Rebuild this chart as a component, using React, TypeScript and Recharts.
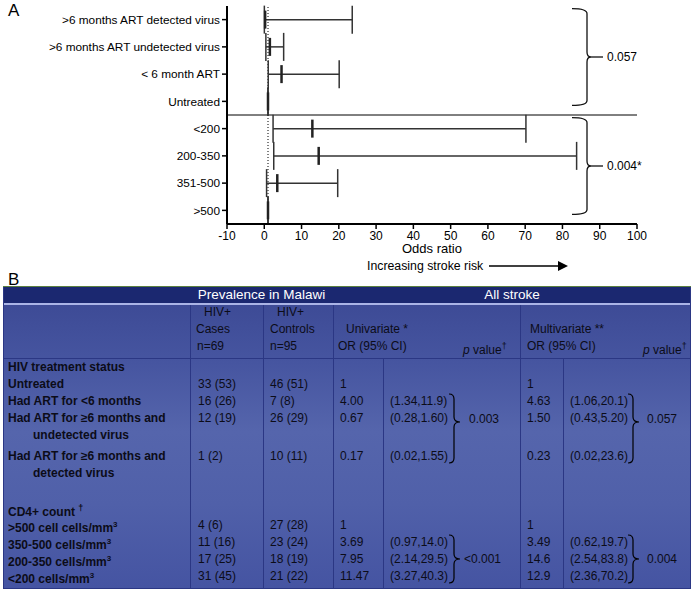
import { ScatterChart, Scatter, XAxis, YAxis, ErrorBar, ReferenceLine } from 'recharts'

const FONT = '"Liberation Sans", Arial, Helvetica, sans-serif'

// Panel A: multivariate odds ratios (95% CI), top row first
const rowLabels = [
  '>6 months ART detected virus',
  '>6 months ART undetected virus',
  '< 6 month ART',
  'Untreated',
  '<200',
  '200-350',
  '351-500',
  '>500',
]
const oddsRatio = [0.23, 1.5, 4.63, 1, 12.9, 14.6, 3.49, 1]
const ciLow = [0.02, 0.43, 1.06, 1, 2.36, 2.54, 0.62, 1]
const ciHigh = [23.6, 5.2, 20.1, 1, 70.2, 83.8, 19.7, 1]
const xTicks = [-10, 0, 10, 20, 30, 40, 50, 60, 70, 80, 90, 100]
const groupRows = [[1, 4], [5, 8]]
const groupP = ['0.057', '0.004*']

// Panel B: table
const treatLabels = ['Untreated', 'Had ART for <6 months', 'Had ART for ≥6 months and', 'Had ART for ≥6 months and']
const treatLabels2 = ['', '', 'undetected virus', 'detected virus']
const treatCases = ['33 (53)', '16 (26)', '12 (19)', '1 (2)']
const treatControls = ['46 (51)', '7 (8)', '26 (29)', '10 (11)']
const treatUniOR = ['1', '4.00', '0.67', '0.17']
const treatUniCI = ['', '(1.34,11.9)', '(0.28,1.60)', '(0.02,1.55)']
const treatMultiOR = ['1', '4.63', '1.50', '0.23']
const treatMultiCI = ['', '(1.06,20.1)', '(0.43,5.20)', '(0.02,23.6)']
const treatP = ['0.003', '0.057']

const cd4Labels = ['>500 cell cells/mm', '350-500 cells/mm', '200-350 cells/mm', '<200 cells/mm']
const cd4Cases = ['4 (6)', '11 (16)', '17 (25)', '31 (45)']
const cd4Controls = ['27 (28)', '23 (24)', '18 (19)', '21 (22)']
const cd4UniOR = ['1', '3.69', '7.95', '11.47']
const cd4UniCI = ['', '(0.97,14.0)', '(2.14,29.5)', '(3.27,40.3)']
const cd4MultiOR = ['1', '3.49', '14.6', '12.9']
const cd4MultiCI = ['', '(0.62,19.7)', '(2.54,83.8)', '(2.36,70.2)']
const cd4P = ['<0.001', '0.004']

const forestData = rowLabels.map((name, i) => ({
  name,
  row: i + 1,
  or: oddsRatio[i],
  err: [oddsRatio[i] - ciLow[i], ciHigh[i] - oddsRatio[i]],
}))

const CHART_W = 694
const CHART_H = 280
const M = { top: 6, right: 57, left: 0, bottom: 26 }
const Y_W = 227
const X_H = 30
const plotTop = M.top
const plotBottom = CHART_H - M.bottom - X_H
const plotLeft = M.left + Y_W
const plotRight = CHART_W - M.right
const rowH = (plotBottom - plotTop) / rowLabels.length
const rowY = (r: number) => plotTop + (r - 0.5) * rowH

// right curly brace, tip at ym
function bracePath(x: number, y1: number, ym: number, y2: number, w: number, tip: number) {
  const r = Math.min(5, (y2 - y1) / 6)
  return `M ${x - w} ${y1} Q ${x} ${y1} ${x} ${y1 + r} L ${x} ${ym - r} Q ${x} ${ym} ${x + tip} ${ym} Q ${x} ${ym} ${x} ${ym + r} L ${x} ${y2 - r} Q ${x} ${y2} ${x - w} ${y2}`
}

const ORMark = (props: any) => {
  const { cx, cy } = props
  return <line x1={cx} x2={cx} y1={cy - 9} y2={cy + 9} stroke="#222" strokeWidth={2.5} />
}

function T({ x, y, children, bold, color = '#0c0c18', size = 12 }: any) {
  return (
    <div
      style={{
        position: 'absolute',
        left: x,
        top: y - 8,
        height: 16,
        lineHeight: '16px',
        fontSize: size,
        fontWeight: bold ? 700 : 400,
        color,
        whiteSpace: 'nowrap',
        fontFamily: FONT,
      }}
    >
      {children}
    </div>
  )
}

function Forest() {
  return (
    <div style={{ position: 'absolute', left: 0, top: 0 }}>
      <ScatterChart width={CHART_W} height={CHART_H} margin={M}>
        <XAxis
          type="number"
          dataKey="or"
          domain={[-10, 100]}
          ticks={xTicks}
          interval={0}
          height={X_H}
          axisLine={{ stroke: '#000', strokeWidth: 2 }}
          tickLine={{ stroke: '#000', strokeWidth: 1.5 }}
          tickSize={5}
          tick={{ fontSize: 12, fill: '#000', fontFamily: FONT }}
        />
        <YAxis
          type="number"
          dataKey="row"
          domain={[0.5, 8.5]}
          ticks={[1, 2, 3, 4, 5, 6, 7, 8]}
          interval={0}
          reversed
          width={Y_W}
          tickFormatter={(v: number) => rowLabels[v - 1]}
          axisLine={{ stroke: '#000', strokeWidth: 2 }}
          tickLine={{ stroke: '#000', strokeWidth: 1.5 }}
          tickSize={5}
          tick={{ fontSize: 11.8, fill: '#000', fontFamily: FONT }}
        />
        <ReferenceLine x={1} stroke="#000" strokeDasharray="1 2" />
        <ReferenceLine y={4.5} stroke="#000" />
        <Scatter data={forestData} shape={ORMark} isAnimationActive={false}>
          <ErrorBar dataKey="err" direction="x" width={14} stroke="#333" strokeWidth={1.5} />
        </Scatter>
      </ScatterChart>
      <svg width={CHART_W} height={CHART_H} style={{ position: 'absolute', left: 0, top: 0 }}>
        <text x={8} y={16} fontSize={17} fontFamily={FONT}>A</text>
        {groupRows.map(([a, b], i) => {
          const y1 = rowY(a) - 11
          const y2 = rowY(b) + 4
          const ym = (y1 + y2) / 2
          return (
            <g key={i}>
              <path d={bracePath(587, y1, ym, y2, 15, 4)} fill="none" stroke="#111" strokeWidth={1.3} />
              <line x1={591} x2={603} y1={ym} y2={ym} stroke="#111" strokeWidth={1.3} />
              <text x={607} y={ym + 4} fontSize={12} fontFamily={FONT}>{groupP[i]}</text>
            </g>
          )
        })}
        <text x={(plotLeft + plotRight) / 2} y={253} fontSize={13} textAnchor="middle" fontFamily={FONT}>
          Odds ratio
        </text>
        <text x={367} y={270} fontSize={12.3} fontFamily={FONT}>Increasing stroke risk</text>
        <line x1={489} x2={560} y1={266} y2={266} stroke="#000" strokeWidth={1.5} />
        <path d="M 558 261 L 568 266 L 558 271 Z" fill="#000" />
      </svg>
    </div>
  )
}

const LINE = '#2b3784'

function TableB() {
  const tY = [384, 401, 418, 456]
  const cY = [525, 542, 559, 576]
  const vLine = (x: number, top: number) => (
    <div style={{ position: 'absolute', left: x, top, width: 1, height: 588 - top, background: LINE }} />
  )
  const brace = (x: number, y1: number, ym: number, y2: number) => (
    <svg style={{ position: 'absolute', left: 0, top: 0 }} width={694} height={593}>
      <path d={bracePath(x, y1, ym, y2, 5, 6)} fill="none" stroke="#000" strokeWidth={1.2} />
    </svg>
  )
  const dag = <sup style={{ fontSize: 9 }}>†</sup>
  return (
    <div style={{ position: 'absolute', left: 0, top: 0, width: 694, height: 593 }}>
      <div style={{ position: 'absolute', left: 8, top: 270, fontSize: 17, fontFamily: FONT }}>B</div>
      <div
        style={{
          position: 'absolute',
          left: 3,
          top: 287,
          width: 688,
          height: 301,
          background: 'linear-gradient(180deg, #3b4893 0%, #4655a0 25%, #5565ac 48%, #5060a9 72%, #4554a2 100%)',
        }}
      />
      <div style={{ position: 'absolute', left: 3, top: 286, width: 688, height: 1, background: '#5b8040' }} />
      <div style={{ position: 'absolute', left: 3, top: 287, width: 688, height: 16, background: '#1b2870' }} />
      <div style={{ position: 'absolute', left: 3, top: 303, width: 688, height: 2, background: '#aab4e6' }} />
      <div style={{ position: 'absolute', left: 3, top: 287, width: 1, height: 301, background: LINE }} />
      <div style={{ position: 'absolute', left: 690, top: 287, width: 1, height: 301, background: LINE }} />
      <div style={{ position: 'absolute', left: 3, top: 588, width: 688, height: 1, background: LINE }} />
      <div style={{ position: 'absolute', left: 3, top: 358, width: 688, height: 1, background: LINE }} />
      {vLine(190, 305)}
      {vLine(263, 305)}
      {vLine(333, 305)}
      {vLine(383, 359)}
      {vLine(520, 305)}
      {vLine(563, 359)}

      <div style={{ position: 'absolute', left: 190, width: 143, top: 287, height: 16, lineHeight: '16px', textAlign: 'center', color: '#fff', fontSize: 13.5, fontFamily: FONT }}>
        Prevalence in Malawi
      </div>
      <div style={{ position: 'absolute', left: 333, width: 358, top: 287, height: 16, lineHeight: '16px', textAlign: 'center', color: '#fff', fontSize: 13.5, fontFamily: FONT }}>
        All stroke
      </div>

      <T x={204} y={312}>HIV+</T>
      <T x={196} y={329}>Cases</T>
      <T x={197} y={346}>n=69</T>
      <T x={277} y={312}>HIV+</T>
      <T x={270} y={329}>Controls</T>
      <T x={270} y={346}>n=95</T>
      <T x={346} y={329}>Univariate *</T>
      <T x={338} y={346}>OR (95% CI)</T>
      <T x={463} y={346}><i>p</i> value{dag}</T>
      <T x={530} y={329}>Multivariate **</T>
      <T x={527} y={346}>OR (95% CI)</T>
      <T x={643} y={346}><i>p</i> value{dag}</T>

      <T x={8} y={367} bold>HIV treatment status</T>
      {treatLabels.map((l, i) => (
        <div key={'t' + i}>
          <T x={8} y={tY[i]} bold>{l}</T>
          {treatLabels2[i] && <T x={33} y={tY[i] + 17} bold>{treatLabels2[i]}</T>}
          <T x={198} y={tY[i]}>{treatCases[i]}</T>
          <T x={270} y={tY[i]}>{treatControls[i]}</T>
          <T x={340} y={tY[i]}>{treatUniOR[i]}</T>
          <T x={390} y={tY[i]}>{treatUniCI[i]}</T>
          <T x={527} y={tY[i]}>{treatMultiOR[i]}</T>
          <T x={570} y={tY[i]}>{treatMultiCI[i]}</T>
        </div>
      ))}
      {brace(454, tY[1] - 7, tY[2] + 4, tY[3] + 7)}
      {brace(633, tY[1] - 7, tY[2] + 4, tY[3] + 7)}
      <T x={469} y={tY[2] + 1}>{treatP[0]}</T>
      <T x={647} y={tY[2] + 1}>{treatP[1]}</T>

      <T x={8} y={508} bold>CD4+ count {dag}</T>
      {cd4Labels.map((l, i) => (
        <div key={'c' + i}>
          <T x={8} y={cY[i]} bold>{l}<sup style={{ fontSize: 8 }}>3</sup></T>
          <T x={198} y={cY[i]}>{cd4Cases[i]}</T>
          <T x={270} y={cY[i]}>{cd4Controls[i]}</T>
          <T x={340} y={cY[i]}>{cd4UniOR[i]}</T>
          <T x={390} y={cY[i]}>{cd4UniCI[i]}</T>
          <T x={527} y={cY[i]}>{cd4MultiOR[i]}</T>
          <T x={570} y={cY[i]}>{cd4MultiCI[i]}</T>
        </div>
      ))}
      {brace(454, cY[1] - 7, cY[2], cY[3] + 7)}
      {brace(633, cY[1] - 7, cY[2], cY[3] + 7)}
      <T x={464} y={cY[2]}>{cd4P[0]}</T>
      <T x={647} y={cY[2]}>{cd4P[1]}</T>
    </div>
  )
}

export default function App() {
  return (
    <div style={{ position: 'relative', width: 694, height: 593, background: '#fff', fontFamily: FONT }}>
      <style>{'body{margin:0}'}</style>
      <TableB />
      <Forest />
    </div>
  )
}
